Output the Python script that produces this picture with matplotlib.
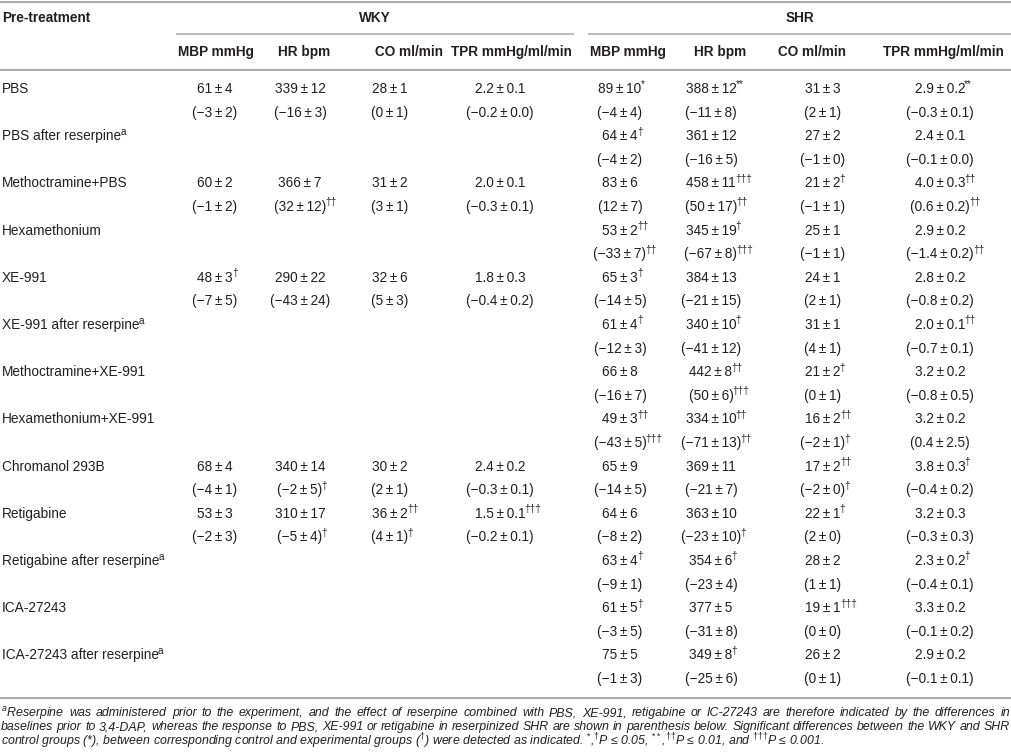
import matplotlib
matplotlib.use("Agg")
import matplotlib.pyplot as plt

plt.rcParams['font.family'] = ['Liberation Sans', 'DejaVu Sans']
plt.rcParams['mathtext.fontset'] = 'custom'
plt.rcParams['mathtext.rm'] = 'Liberation Sans'
plt.rcParams['mathtext.it'] = 'Liberation Sans:italic'
plt.rcParams['mathtext.bf'] = 'Liberation Sans:bold'

TEXT = "#231f20"
RULE = "#a8a8a8"
FS = 9.8

# ---- table content ----
treatments = ["PBS", "PBS after reserpine", "Methoctramine+PBS", "Hexamethonium",
              "XE-991", "XE-991 after reserpine", "Methoctramine+XE-991",
              "Hexamethonium+XE-991", "Chromanol 293B", "Retigabine",
              "Retigabine after reserpine", "ICA-27243", "ICA-27243 after reserpine"]
reserpine_note = [False, True, False, False, False, True, False, False,
                  False, False, True, False, True]

groups = ["WKY", "SHR"]
measures = ["MBP mmHg", "HR bpm", "CO ml/min", "TPR mmHg/ml/min"]
decimals = [0, 0, 0, 1]

# (mean, sem, significance mark); None = not measured
wky_mbp = [(61, 4, ""), None, (60, 2, ""), None, (48, 3, "†"), None, None, None,
           (68, 4, ""), (53, 3, ""), None, None, None]
wky_mbp_chg = [(-3, 2, ""), None, (-1, 2, ""), None, (-7, 5, ""), None, None, None,
               (-4, 1, ""), (-2, 3, ""), None, None, None]
wky_hr = [(339, 12, ""), None, (366, 7, ""), None, (290, 22, ""), None, None, None,
          (340, 14, ""), (310, 17, ""), None, None, None]
wky_hr_chg = [(-16, 3, ""), None, (32, 12, "††"), None, (-43, 24, ""), None, None, None,
              (-2, 5, "†"), (-5, 4, "†"), None, None, None]
wky_co = [(28, 1, ""), None, (31, 2, ""), None, (32, 6, ""), None, None, None,
          (30, 2, ""), (36, 2, "††"), None, None, None]
wky_co_chg = [(0, 1, ""), None, (3, 1, ""), None, (5, 3, ""), None, None, None,
              (2, 1, ""), (4, 1, "†"), None, None, None]
wky_tpr = [(2.2, 0.1, ""), None, (2.0, 0.1, ""), None, (1.8, 0.3, ""), None, None, None,
           (2.4, 0.2, ""), (1.5, 0.1, "†††"), None, None, None]
wky_tpr_chg = [(-0.2, 0.0, ""), None, (-0.3, 0.1, ""), None, (-0.4, 0.2, ""), None, None, None,
               (-0.3, 0.1, ""), (-0.2, 0.1, ""), None, None, None]

shr_mbp = [(89, 10, "*"), (64, 4, "†"), (83, 6, ""), (53, 2, "††"), (65, 3, "†"),
           (61, 4, "†"), (66, 8, ""), (49, 3, "††"), (65, 9, ""), (64, 6, ""),
           (63, 4, "†"), (61, 5, "†"), (75, 5, "")]
shr_mbp_chg = [(-4, 4, ""), (-4, 2, ""), (12, 7, ""), (-33, 7, "††"), (-14, 5, ""),
               (-12, 3, ""), (-16, 7, ""), (-43, 5, "†††"), (-14, 5, ""), (-8, 2, ""),
               (-9, 1, ""), (-3, 5, ""), (-1, 3, "")]
shr_hr = [(388, 12, "**"), (361, 12, ""), (458, 11, "†††"), (345, 19, "†"), (384, 13, ""),
          (340, 10, "†"), (442, 8, "††"), (334, 10, "††"), (369, 11, ""), (363, 10, ""),
          (354, 6, "†"), (377, 5, ""), (349, 8, "†")]
shr_hr_chg = [(-11, 8, ""), (-16, 5, ""), (50, 17, "††"), (-67, 8, "†††"), (-21, 15, ""),
              (-41, 12, ""), (50, 6, "†††"), (-71, 13, "††"), (-21, 7, ""), (-23, 10, "†"),
              (-23, 4, ""), (-31, 8, ""), (-25, 6, "")]
shr_co = [(31, 3, ""), (27, 2, ""), (21, 2, "†"), (25, 1, ""), (24, 1, ""), (31, 1, ""),
          (21, 2, "†"), (16, 2, "††"), (17, 2, "††"), (22, 1, "†"), (28, 2, ""),
          (19, 1, "†††"), (26, 2, "")]
shr_co_chg = [(2, 1, ""), (-1, 0, ""), (-1, 1, ""), (-1, 1, ""), (2, 1, ""), (4, 1, ""),
              (0, 1, ""), (-2, 1, "†"), (-2, 0, "†"), (2, 0, ""), (1, 1, ""), (0, 0, ""),
              (0, 1, "")]
shr_tpr = [(2.9, 0.2, "**"), (2.4, 0.1, ""), (4.0, 0.3, "††"), (2.9, 0.2, ""), (2.8, 0.2, ""),
           (2.0, 0.1, "††"), (3.2, 0.2, ""), (3.2, 0.2, ""), (3.8, 0.3, "†"), (3.2, 0.3, ""),
           (2.3, 0.2, "†"), (3.3, 0.2, ""), (2.9, 0.2, "")]
shr_tpr_chg = [(-0.3, 0.1, ""), (-0.1, 0.0, ""), (0.6, 0.2, "††"), (-1.4, 0.2, "††"),
               (-0.8, 0.2, ""), (-0.7, 0.1, ""), (-0.8, 0.5, ""), (0.4, 2.5, ""),
               (-0.4, 0.2, ""), (-0.3, 0.3, ""), (-0.4, 0.1, ""), (-0.1, 0.2, ""),
               (-0.1, 0.1, "")]

columns = [
    (wky_mbp, wky_mbp_chg), (wky_hr, wky_hr_chg), (wky_co, wky_co_chg), (wky_tpr, wky_tpr_chg),
    (shr_mbp, shr_mbp_chg), (shr_hr, shr_hr_chg), (shr_co, shr_co_chg), (shr_tpr, shr_tpr_chg),
]

footnote = [
    "$^{a}$Reserpine was administered prior to the experiment, and the effect of reserpine "
    "combined with PBS, XE-991, retigabine or IC-27243 are therefore indicated by the differences in",
    "baselines prior to 3,4-DAP, whereas the response to PBS, XE-991 or retigabine in reserpinized "
    "SHR are shown in parenthesis below. Significant differences between the WKY and SHR",
    "control groups (*), between corresponding control and experimental groups ($^{†}$) were "
    "detected as indicated. $^{*}$,$^{†}$P ≤ 0.05, $^{**}$,$^{††}$P ≤ 0.01, and $^{†††}$P ≤ 0.001.",
]

# ---- layout (pixels) ----
header_x = [216, 304, 409, 511, 628, 720, 812, 943]
value_x = [215, 300, 390, 500, 620, 711, 823, 940]
group_spans = [(176, 574), (588, 1012)]
y_first = 89
pitch = 23.6


def fmt(m, s, d):
    sign = "\u2212" if m < 0 else ""
    return f"{sign}{abs(m):.{d}f}\u2009±\u2009{s:.{d}f}"


def sup(ax, artist, mark, size=7.2):
    ax.annotate(mark, xy=(1, 1), xycoords=artist, xytext=(-0.7, 1.8),
                textcoords="offset points", ha="left", va="top",
                fontsize=size, color=TEXT)


def rule(ax, x0, x1, y, lw=1.5):
    ax.plot([x0, x1], [y, y], color=RULE, lw=lw, solid_capstyle="butt")


def justified(ax, line, x0, x1, y, renderer, **kw):
    words = line.split(" ")
    arts = [ax.text(x0, y, w, ha="left", va="center", **kw) for w in words]
    widths = [a.get_window_extent(renderer).width for a in arts]
    gap = (x1 - x0 - sum(widths)) / (len(words) - 1)
    x = x0
    for a, w in zip(arts, widths):
        a.set_x(x)
        x += w + gap


fig = plt.figure(figsize=(10.12, 7.54), dpi=100)
ax = fig.add_axes([0, 0, 1, 1])
ax.set_xlim(0, 1012)
ax.set_ylim(754, 0)
ax.axis("off")
renderer = fig.canvas.get_renderer()

rule(ax, 0, 1012, 1.5)
ax.text(2, 18, "Pre-treatment", ha="left", va="center", fontsize=FS,
        fontweight="bold", color=TEXT)
for g, (x0, x1) in zip(groups, group_spans):
    ax.text((x0 + x1) / 2, 18, g, ha="center", va="center", fontsize=FS,
            fontweight="bold", color=TEXT)
    rule(ax, x0, x1, 33.5, lw=1.1)
for j, x in enumerate(header_x):
    ax.text(x, 52, measures[j % 4], ha="center", va="center", fontsize=FS,
            fontweight="bold", color=TEXT)
rule(ax, 0, 1012, 70)

for i, name in enumerate(treatments):
    yb = y_first + 2 * i * pitch
    t = ax.text(2, yb, name, ha="left", va="center", fontsize=FS, color=TEXT)
    if reserpine_note[i]:
        sup(ax, t, "a")
    for j, (base_col, chg_col) in enumerate(columns):
        d = decimals[j % 4]
        base, chg = base_col[i], chg_col[i]
        if base is not None:
            t = ax.text(value_x[j], yb, fmt(base[0], base[1], d), ha="center",
                        va="center", fontsize=FS, color=TEXT)
            if base[2]:
                sup(ax, t, base[2])
        if chg is not None:
            t = ax.text(value_x[j], yb + pitch, "(" + fmt(chg[0], chg[1], d) + ")",
                        ha="center", va="center", fontsize=FS, color=TEXT)
            if chg[2]:
                sup(ax, t, chg[2])

rule(ax, 0, 1012, 698)
note_style = dict(fontsize=8.95, style="italic", color=TEXT)
for k, line in enumerate(footnote):
    y = 713 + k * 14
    if k < len(footnote) - 1:
        justified(ax, line, 1, 1010, y, renderer, **note_style)
    else:
        ax.text(1, y, line, ha="left", va="center", **note_style)

fig.savefig("out.png", dpi=100)
